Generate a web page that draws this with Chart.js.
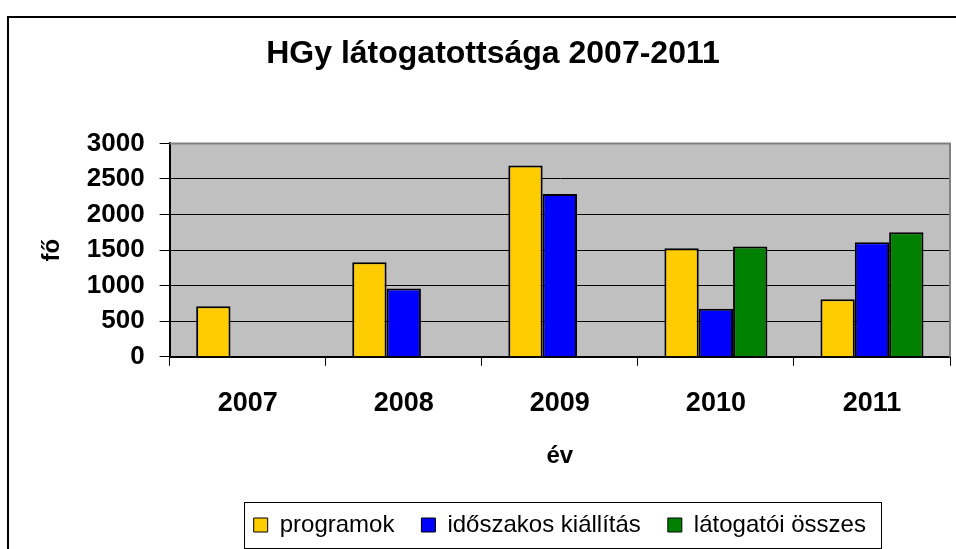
<!DOCTYPE html>
<html>
<head>
<meta charset="utf-8">
<script src="https://cdn.jsdelivr.net/npm/chart.js@4/dist/chart.umd.min.js"></script>
<style>
html,body{margin:0;padding:0;background:#fff;overflow:hidden;}
#wrap{position:relative;width:956px;height:549px;}
</style>
</head>
<body>
<div id="wrap"><canvas id="c" width="956" height="549"></canvas></div>
<script>
const categories = ['2007', '2008', '2009', '2010', '2011'];
const programok = [710, 1330, 2690, 1525, 810];
const idoszakos = [null, 960, 2290, 675, 1610];
const latogatoi = [null, null, null, 1550, 1750];
const seriesNames = ['programok', 'időszakos kiállítás', 'látogatói összes'];
const yMin = 0, yMax = 3000, yStep = 500;

const FONT = "'Liberation Sans', Arial, sans-serif";

const framePlugin = {
  id: 'framePlugin',
  afterLayout(chart) {
    const t = chart.titleBlock;
    if (t) { t.left += 14; t.right += 14; }
  },
  beforeDraw(chart) {
    const ctx = chart.ctx, a = chart.chartArea;
    ctx.save();
    ctx.fillStyle = '#fff';
    ctx.fillRect(0, 0, chart.width, chart.height);
    ctx.fillStyle = '#C0C0C0';
    ctx.fillRect(a.left, a.top, a.right - a.left, a.bottom - a.top);
    ctx.restore();
  },
  afterDatasetsDraw(chart) {
    const ctx = chart.ctx, a = chart.chartArea;
    ctx.save();
    ctx.strokeStyle = '#808080';
    ctx.lineWidth = 2;
    ctx.beginPath();
    ctx.moveTo(a.left, a.top);
    ctx.lineTo(a.right, a.top);
    ctx.lineTo(a.right, a.bottom);
    ctx.stroke();
    ctx.restore();
  },
  afterDraw(chart) {
    const ctx = chart.ctx;
    ctx.save();
    ctx.strokeStyle = '#000';
    ctx.lineWidth = 2;
    ctx.beginPath();
    ctx.moveTo(8, chart.height + 5);
    ctx.lineTo(8, 17);
    ctx.lineTo(chart.width + 5, 17);
    ctx.stroke();
    const lg = chart.legend;
    if (lg && lg.legendHitBoxes && lg.legendHitBoxes.length) {
      let minX = Infinity, maxX = -Infinity, cy = 0;
      lg.legendHitBoxes.forEach(h => {
        minX = Math.min(minX, h.left);
        maxX = Math.max(maxX, h.left + h.width);
        cy = h.top + h.height / 2;
      });
      ctx.lineWidth = 1;
      ctx.strokeStyle = '#000';
      ctx.strokeRect(Math.round(minX - 10) + 0.5, Math.round(cy - 23) + 0.5, Math.round(maxX - minX + 25), 46);
    }
    ctx.restore();
  }
};

const chart = new Chart(document.getElementById('c'), {
  type: 'bar',
  data: {
    labels: categories,
    datasets: [
      { label: seriesNames[0], data: programok, backgroundColor: '#FFCC00' },
      { label: seriesNames[1], data: idoszakos, backgroundColor: '#0000FF' },
      { label: seriesNames[2], data: latogatoi, backgroundColor: '#008000' }
    ]
  },
  options: {
    responsive: false,
    animation: false,
    devicePixelRatio: 1,
    layout: { padding: { left: 8, right: 6, top: 16, bottom: 2 } },
    datasets: {
      bar: {
        borderColor: '#000',
        borderWidth: 2,
        barPercentage: 1,
        categoryPercentage: 0.66
      }
    },
    plugins: {
      title: {
        display: true,
        text: 'HGy látogatottsága 2007-2011',
        color: '#000',
        font: { family: FONT, size: 32, weight: 'bold' },
        padding: { top: 19, bottom: 70 }
      },
      legend: {
        position: 'bottom',
        fullSize: false,
        labels: {
          color: '#000',
          font: { family: FONT, size: 24 },
          boxWidth: 14,
          boxHeight: 14,
          padding: 27,
          generateLabels(chart) {
            return chart.data.datasets.map((ds, i) => ({
              text: ds.label,
              fillStyle: ds.backgroundColor,
              strokeStyle: '#000',
              lineWidth: 1,
              hidden: false,
              datasetIndex: i
            }));
          }
        }
      },
      tooltip: { enabled: false }
    },
    scales: {
      x: {
        grid: {
          display: true,
          drawOnChartArea: false,
          drawTicks: true,
          tickLength: 9,
          color: '#000',
          offset: true
        },
        border: { display: true, color: '#000', width: 2 },
        ticks: {
          color: '#000',
          font: { family: FONT, size: 27, weight: 'bold' },
          padding: 22
        },
        title: {
          display: true,
          text: 'év',
          color: '#000',
          font: { family: FONT, size: 24, weight: 'bold' },
          padding: { top: 0, bottom: 15 }
        }
      },
      y: {
        min: yMin,
        max: yMax,
        grid: {
          color: '#000',
          lineWidth: 1,
          drawTicks: true,
          tickLength: 10
        },
        border: { display: true, color: '#000', width: 2 },
        ticks: {
          stepSize: yStep,
          autoSkip: false,
          color: '#000',
          font: { family: FONT, size: 26, weight: 'bold' },
          padding: 15,
          callback: v => String(v)
        },
        title: {
          display: true,
          text: 'fő',
          color: '#000',
          font: { family: FONT, size: 24, weight: 'bold' },
          padding: { top: 30, bottom: 5 }
        }
      }
    }
  },
  plugins: [framePlugin]
});
</script>
</body>
</html>
